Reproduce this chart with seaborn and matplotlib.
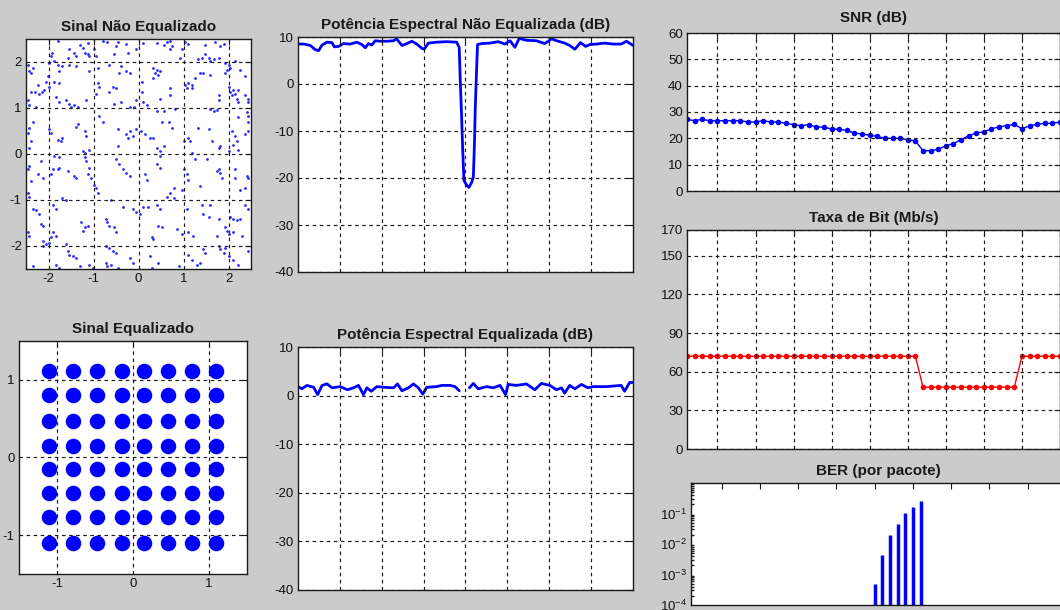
import matplotlib
matplotlib.use('Agg')
import matplotlib.pyplot as plt
import pandas as pd
import seaborn as sns
import numpy as np
from itertools import product

# ---- dados ----
# sinal nao equalizado (amostras aproximadas, x/y)
uneq_pts = [
    (-1.78, 2.46), (-1.31, 2.37), (-1.23, 2.31), (-1.13, 2.41), (-1.54, 2.28), (-1.43, 2.19), (-1.39, 2.14),
    (-1.20, 2.20), (-1.13, 2.17), (-1.09, 2.13), (-1.92, 2.20), (-1.94, 2.13), (-1.57, 2.09), (-0.98, 2.28),
    (-0.94, 2.13), (-0.80, 2.46), (-0.69, 2.43), (-0.46, 2.44), (-0.28, 2.39), (-0.50, 2.35), (-0.24, 2.20),
    (-0.54, 2.17), (-0.06, 2.28), (-2.00, 1.98), (-1.87, 2.02), (-1.80, 1.94), (-1.69, 1.91), (-1.76, 1.80),
    (-2.35, 1.87), (-2.43, 1.80), (-2.39, 1.76), (-2.46, 1.94), (-1.54, 1.94), (-1.39, 1.91), (-1.09, 1.80),
    (-0.91, 1.87), (-0.65, 1.94), (-0.39, 1.91), (-0.28, 1.80), (-0.20, 1.76), (-0.43, 1.76), (-2.02, 1.69),
    (-2.06, 1.57), (-1.98, 1.46), (-2.24, 1.50), (-2.31, 1.35), (-2.20, 1.31), (-2.14, 1.35), (-2.09, 1.39),
    (-2.39, 1.35), (-2.46, 1.17), (-2.43, 1.06), (-2.28, 1.02), (-1.87, 1.57), (-1.76, 1.54), (-1.83, 1.24),
    (-1.76, 1.13), (-1.61, 1.17), (-1.54, 1.09), (-1.50, 1.02), (-1.43, 1.06), (-1.35, 1.02), (-1.17, 1.17),
    (-0.91, 1.54), (-0.87, 1.46), (-0.94, 1.31), (-0.65, 1.35), (-0.57, 1.46), (-0.50, 1.43), (-0.54, 1.09),
    (-0.39, 1.13), (-0.06, 1.17), (-0.20, 1.02), (-0.09, 1.02), (-2.35, 0.69), (-2.43, 0.57), (-2.46, 0.46),
    (-2.39, 0.28), (-2.43, 0.13), (-1.98, 0.54), (-1.94, 0.46), (-1.80, 0.31), (-1.72, 0.28), (-1.69, 0.35),
    (-1.35, 0.65), (-1.39, 0.59), (-1.20, 0.50), (-1.17, 0.39), (-1.24, 0.06), (-1.18, 0.02), (-1.09, 0.09),
    (-0.80, 0.69), (-0.87, 0.83), (-0.46, 0.54), (-0.28, 0.43), (-0.24, 0.35), (-0.20, 0.50), (-0.13, 0.39),
    (-0.06, 0.54), (-0.46, 0.17),
    (0.11, 2.41), (0.41, 2.41), (0.56, 2.37), (0.63, 2.43), (0.70, 2.46), (0.74, 2.35), (0.70, 2.28),
    (1.04, 2.43), (1.11, 2.39), (1.48, 2.37), (1.70, 2.43), (1.81, 2.34), (1.89, 2.39), (0.93, 2.09),
    (0.96, 2.28), (1.33, 2.06), (1.41, 2.09), (1.48, 2.17), (1.56, 2.09), (1.59, 2.02), (1.67, 2.06),
    (1.78, 2.09), (1.93, 1.98), (2.00, 1.94), (1.96, 1.83), (1.93, 1.76), (2.04, 1.87), (2.15, 2.02),
    (2.26, 1.83), (2.37, 1.69), (0.33, 1.87), (0.41, 1.83), (0.48, 1.80), (0.37, 1.76), (0.44, 1.72),
    (0.33, 1.65), (0.07, 1.57), (1.37, 1.76), (1.44, 1.76), (1.59, 1.72), (1.26, 1.65), (1.04, 1.50),
    (1.11, 1.54), (1.19, 1.50), (1.07, 1.43), (1.19, 1.43), (0.70, 1.43), (0.07, 1.35), (0.70, 1.28),
    (0.48, 1.20), (2.00, 1.46), (2.04, 1.35), (2.11, 1.39), (2.15, 1.31), (2.22, 1.39), (2.07, 1.28),
    (2.19, 1.20), (2.22, 1.13), (2.37, 1.28), (2.44, 1.20), (2.44, 1.13), (1.78, 1.28), (1.78, 1.17),
    (1.59, 0.98), (1.67, 0.94), (1.74, 0.96), (0.11, 1.13), (0.19, 1.06), (0.41, 0.94), (0.56, 0.94),
    (0.81, 0.98), (2.41, 0.91), (2.44, 0.83), (2.22, 0.80), (0.06, 0.50), (0.15, 0.43), (0.26, 0.35),
    (0.33, 0.35), (0.52, 0.69), (0.67, 0.69), (0.74, 0.57), (0.41, 0.13), (0.56, 0.17), (0.48, 0.06),
    (1.00, 0.28), (1.15, 0.28), (1.11, 0.35), (1.33, 0.57), (1.56, 0.54), (1.63, 0.28), (1.78, 0.13),
    (1.81, 0.17), (2.00, 0.06), (2.11, 0.20), (2.19, 0.28), (2.15, 0.39), (2.07, 0.50), (2.22, 0.09),
    (2.37, 0.43), (2.44, 0.50), (2.44, 0.69), (1.19, 0.02),
    (-2.17, -0.15), (-2.43, -0.26), (-2.46, -0.33), (-2.39, -0.59), (-2.46, -0.85), (-2.43, -0.93),
    (-2.24, -0.44), (-2.13, -0.52), (-1.87, -0.04), (-1.76, -0.07), (-1.91, -0.33), (-1.80, -0.33),
    (-1.76, -0.30), (-1.94, -0.44), (-1.57, -0.37), (-1.43, -0.48), (-1.39, -0.53), (-1.20, -0.07),
    (-1.17, -0.15), (-1.09, -0.30), (-1.13, -0.44), (-1.06, -0.52), (-0.98, -0.67), (-0.94, -0.74),
    (-0.91, -0.85), (-0.50, -0.11), (-0.43, -0.22), (-0.35, -0.33), (-0.28, -0.41), (-0.20, -0.48),
    (-2.35, -1.19), (-2.28, -1.22), (-2.20, -1.30), (-2.17, -1.52), (-2.13, -1.56), (-2.46, -1.70),
    (-2.43, -1.78), (-2.13, -1.89), (-2.06, -1.96), (-1.98, -1.93), (-1.94, -1.81), (-2.13, -2.00),
    (-1.91, -1.11), (-1.83, -1.19), (-1.69, -0.96), (-1.61, -1.00), (-1.91, -1.70), (-1.83, -1.78),
    (-1.61, -1.96), (-1.57, -2.11), (-1.54, -2.19), (-1.46, -2.22), (-1.39, -2.26), (-1.28, -1.48),
    (-1.20, -1.59), (-1.13, -1.56), (-1.24, -1.67), (-2.35, -2.44), (-1.83, -2.41), (-1.76, -2.48),
    (-1.31, -2.44), (-1.09, -2.41), (-1.02, -2.48), (-0.61, -1.00), (-0.35, -1.15), (-0.13, -1.19),
    (-0.06, -1.26), (-0.72, -1.41), (-0.69, -1.48), (-0.65, -1.56), (-0.54, -1.59), (-0.50, -1.70),
    (-0.72, -2.00), (-0.65, -2.04), (-0.57, -2.11), (-0.50, -2.15), (-0.72, -2.37), (-0.69, -2.44),
    (-0.61, -2.41), (-0.46, -2.48), (-0.20, -2.26), (-0.13, -2.37),
    (0.48, -0.04), (0.41, -0.22), (0.48, -0.30), (0.15, -0.44), (0.19, -0.56), (1.00, -0.33),
    (1.07, -0.44), (1.11, -0.56), (1.26, -0.11), (1.52, -0.11), (1.74, -0.37), (1.81, -0.41),
    (1.85, -0.52), (1.78, -0.33), (2.15, -0.33), (2.15, -0.52), (2.41, -0.48), (2.44, -0.52),
    (2.37, -0.74), (2.26, -0.78), (1.37, -0.70), (0.78, -0.74), (0.70, -0.85), (0.63, -0.93),
    (0.78, -0.96), (0.96, -0.78), (0.04, -1.30), (0.11, -1.15), (0.22, -1.15), (0.41, -1.11),
    (0.48, -1.19), (0.44, -1.56), (0.52, -1.59), (0.30, -1.81), (0.33, -1.85), (0.85, -1.63),
    (0.96, -1.74), (1.11, -1.70), (1.22, -1.78), (1.07, -1.19), (1.41, -1.11), (1.59, -1.11),
    (1.44, -1.30), (1.56, -1.37), (1.78, -1.41), (1.93, -1.59), (1.96, -1.67), (2.00, -1.74),
    (1.74, -1.78), (2.04, -1.37), (2.11, -1.41), (2.19, -1.44), (2.26, -1.41), (2.37, -1.11),
    (2.44, -1.19), (2.11, -1.70), (2.30, -1.78), (1.78, -2.00), (1.81, -2.07), (1.89, -2.15),
    (1.93, -2.04), (1.11, -2.19), (1.19, -2.30), (1.30, -2.41), (1.37, -2.37), (1.48, -2.15),
    (1.44, -2.07), (0.30, -2.48), (0.26, -2.22), (0.44, -2.37), (0.89, -2.44), (2.00, -2.22),
    (2.11, -2.30), (2.22, -2.41), (2.44, -2.11),
]

# sinal equalizado: centros dos 64 grupos (64-QAM)
eq_levels_x = [-1.10, -0.79, -0.48, -0.15, 0.15, 0.46, 0.77, 1.09]
eq_levels_y = [1.12, 0.80, 0.47, 0.15, -0.15, -0.46, -0.77, -1.10]

# potencia espectral nao equalizada (subportadora, dB)
psd_raw_x = [0, 2.2, 4.7, 6.6, 7.9, 9.2, 11.1, 13.0, 13.9, 15.5, 17.4, 20.0, 22.5, 24.4, 25.7, 26.9,
             28.2, 29.5, 31.4, 33.9, 36.5, 37.7, 39.7, 41.6, 43.5, 45.4, 47.3, 48.2, 49.8, 53.0, 56.8,
             60.6, 61.6, 62.0, 62.5, 62.9, 63.4, 64.4, 65.3, 66.3, 67.0, 67.4, 67.7, 68.1, 68.6, 70.2,
             73.3, 76.5, 79.1, 81.0, 82.9, 84.5, 87.3, 91.1, 94.3, 96.9, 99.4, 101.9, 103.8, 105.8,
             107.9, 109.9, 111.5, 114.0, 117.2, 120.4, 123.5, 125.5, 128.0]
psd_raw_db = [8.5, 8.5, 8.2, 7.3, 7.1, 8.3, 8.9, 8.8, 7.9, 8.0, 8.6, 8.5, 8.9, 8.4, 7.7, 8.6,
              8.3, 9.2, 9.1, 9.1, 9.2, 9.6, 8.2, 8.6, 9.1, 8.5, 7.6, 7.4, 8.7, 8.9, 9.0,
              8.9, 7.8, 0.7, -6.7, -13.5, -20.5, -21.5, -22.0, -21.0, -19.8, -13.0, -5.8, 1.0, 8.4, 8.6,
              8.7, 9.0, 8.5, 9.2, 7.8, 9.7, 9.3, 9.2, 8.6, 9.6, 9.1, 8.7, 8.2, 7.4,
              8.8, 8.0, 8.4, 8.5, 8.7, 8.5, 8.5, 9.1, 8.2]

# potencia espectral equalizada (duas partes, sem a regiao do nulo)
psd_eq_x1 = [0, 1.5, 3.4, 6.0, 7.5, 9.2, 11.1, 13.0, 16.1, 18.9, 21.2, 23.1, 25.0, 26.3, 28.0, 30.1,
             33.3, 36.5, 38.0, 39.7, 42.2, 44.1, 46.0, 47.7, 49.2, 53.0, 54.9, 58.1, 60.0, 61.6]
psd_eq_db1 = [1.85, 1.4, 2.1, 1.7, 0.2, 2.1, 2.4, 1.6, 1.85, 1.2, 1.6, 2.1, 0.2, 1.6, 0.9, 1.85,
              1.7, 1.6, 2.4, 1.0, 1.6, 2.4, 1.6, 0.3, 1.7, 1.85, 2.1, 2.1, 1.85, 1.0]
psd_eq_x2 = [65.5, 67.0, 68.9, 72.1, 74.6, 77.2, 79.3, 80.3, 83.5, 87.3, 90.5, 93.0, 96.2, 98.8, 100.7,
             101.9, 103.8, 105.8, 108.3, 110.8, 112.7, 117.8, 123.5, 124.8, 126.7, 128.0]
psd_eq_db2 = [1.6, 2.5, 1.4, 1.85, 1.6, 2.1, 0.2, 2.3, 2.1, 2.4, 1.2, 2.5, 2.1, 1.2, 1.6,
              0.5, 2.1, 1.4, 2.3, 1.6, 1.85, 1.85, 2.1, 0.9, 2.7, 2.7]

# SNR por pacote (dB)
packets = list(range(1, 51))
snr_db = [27.2, 26.7, 27.2, 26.7, 26.7, 26.7, 26.7, 26.7, 26.2, 26.2, 26.7, 26.2, 26.2, 25.7, 25.2,
          24.8, 25.2, 24.3, 24.3, 23.5, 23.5, 23.0, 22.0, 21.6, 21.2, 20.7, 20.0, 20.0, 20.0, 19.5,
          19.0, 15.3, 15.3, 15.8, 17.2, 18.0, 19.5, 21.0, 22.0, 22.5, 23.6, 24.4, 24.8, 25.3, 23.6,
          24.8, 25.3, 25.7, 25.7, 26.2]

# taxa de bit (Mb/s)
bitrate = [72] * 31 + [48] * 13 + [72] * 6

# BER por pacote
ber_packets = [25, 26, 27, 28, 29, 30, 31]
ber_values = [5e-4, 4.3e-3, 1.9e-2, 4.7e-2, 0.105, 0.165, 0.25]

# ---- estilo ----
sns.set_theme(style='white')
plt.rcParams['font.family'] = ['Liberation Sans', 'DejaVu Sans']
plt.rcParams['axes.unicode_minus'] = False
plt.rcParams['mathtext.default'] = 'regular'

BG = '#cbcbcb'
W, H = 1060, 610
fig = plt.figure(figsize=(W / 100, H / 100), dpi=100)
fig.patch.set_facecolor(BG)


def px_axes(l, t, r, b):
    return fig.add_axes([l / W, 1 - b / H, (r - l) / W, (b - t) / H])


def style(ax, title, grid=True, pad=6):
    ax.set_facecolor('white')
    ax.tick_params(direction='in', top=True, right=True, length=4, width=0.8,
                   labelsize=9.5, labelcolor='#111111', color='k', pad=3)
    for s in ax.spines.values():
        s.set_color('k')
        s.set_linewidth(1.0)
    if grid:
        ax.grid(True, color='k', linestyle=(0, (3, 3)), linewidth=0.85)
    ax.set_axisbelow(False)
    ax.set_xlabel('')
    ax.set_ylabel('')
    ax.set_title(title, fontsize=11, fontweight='bold', color='#1a1a1a', pad=pad)


# Sinal Nao Equalizado
ax1 = px_axes(26, 39, 251, 269)
ux = [p[0] for p in uneq_pts]
uy = [p[1] for p in uneq_pts]
sns.scatterplot(x=ux, y=uy, ax=ax1, s=4, color='#2a2aff', linewidth=0, legend=False)
ax1.set_xlim(-2.5, 2.5)
ax1.set_ylim(-2.5, 2.5)
ax1.set_xticks([-2, -1, 0, 1, 2])
ax1.set_yticks([-2, -1, 0, 1, 2])
style(ax1, 'Sinal Não Equalizado')

# Sinal Equalizado
ax2 = px_axes(19, 341, 247, 574)
eq = pd.DataFrame(list(product(eq_levels_x, eq_levels_y)), columns=['I', 'Q'])
sns.scatterplot(data=eq, x='I', y='Q', ax=ax2, s=125, color='#0000ff', linewidth=0,
                marker='o', legend=False)
ax2.set_xlim(-1.5, 1.5)
ax2.set_ylim(-1.5, 1.5)
ax2.set_xticks([-1, 0, 1])
ax2.set_yticks([-1, 0, 1])
style(ax2, 'Sinal Equalizado')

# Potencia espectral nao equalizada
ax3 = px_axes(298, 37, 633, 272)
sns.lineplot(x=psd_raw_x, y=psd_raw_db, ax=ax3, color='#0000ff', linewidth=2.0,
             estimator=None, sort=False)
ax3.set_xlim(0, 128)
ax3.set_ylim(-40, 10)
ax3.set_xticks(range(16, 128, 16))
ax3.set_xticklabels([])
ax3.set_yticks(range(-40, 11, 10))
style(ax3, 'Potência Espectral Não Equalizada (dB)')

# Potencia espectral equalizada
ax4 = px_axes(298, 347, 633, 590)
psd_eq = pd.DataFrame({
    'f': psd_eq_x1 + psd_eq_x2,
    'db': psd_eq_db1 + psd_eq_db2,
    'seg': [0] * len(psd_eq_x1) + [1] * len(psd_eq_x2),
})
sns.lineplot(data=psd_eq, x='f', y='db', units='seg', estimator=None, ax=ax4,
             color='#0000ff', linewidth=2.0, sort=False)
ax4.set_xlim(0, 128)
ax4.set_ylim(-40, 10)
ax4.set_xticks(range(16, 128, 16))
ax4.set_xticklabels([])
ax4.set_yticks(range(-40, 11, 10))
style(ax4, 'Potência Espectral Equalizada (dB)')

# SNR
ax5 = px_axes(687, 33, 1060, 191)
sns.lineplot(x=packets, y=snr_db, ax=ax5, color='#0000ff', linewidth=1.0,
             marker='o', markersize=4, markeredgewidth=0, estimator=None)
ax5.set_xlim(1, 50)
ax5.set_ylim(0, 60)
ax5.set_xticks(range(5, 51, 5))
ax5.set_xticklabels([])
ax5.set_yticks(range(0, 61, 10))
style(ax5, 'SNR (dB)', pad=8)

# Taxa de bit
ax6 = px_axes(687, 230, 1060, 449)
sns.lineplot(x=packets, y=bitrate, ax=ax6, color='#ff0000', linewidth=1.0,
             marker='o', markersize=4, markeredgewidth=0, estimator=None)
ax6.set_xlim(1, 50)
ax6.set_ylim(0, 170)
ax6.set_xticks(range(5, 51, 5))
ax6.set_xticklabels([])
ax6.set_yticks([0, 30, 60, 90, 120, 150, 170])
style(ax6, 'Taxa de Bit (Mb/s)')

# BER
ax7 = px_axes(691, 483, 1066, 605)
ax7.set_yscale('log')
ax7.vlines(ber_packets, 1e-4, ber_values, color='#0000ff', linewidth=2.5)
ax7.set_xlim(1, 50)
ax7.set_ylim(1e-4, 1)
ax7.set_xticks(range(5, 51, 5))
ax7.set_xticklabels([])
ax7.set_yticks([1e-4, 1e-3, 1e-2, 1e-1])
ax7.set_yticklabels(['$10^{-4}$', '$10^{-3}$', '$10^{-2}$', '$10^{-1}$'])
style(ax7, 'BER (por pacote)', grid=False)
ax7.tick_params(which='minor', direction='in', left=True, right=True, length=2, color='k')

fig.savefig('out.png', dpi=100, facecolor=BG)
